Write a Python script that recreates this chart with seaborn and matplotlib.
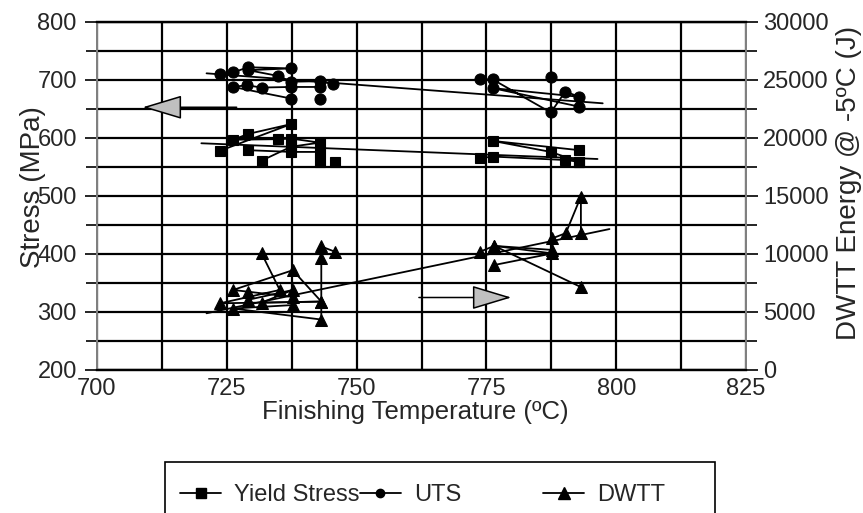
import numpy as np
import pandas as pd
import matplotlib
matplotlib.use("Agg")
import matplotlib.pyplot as plt
import seaborn as sns
from matplotlib.lines import Line2D
from matplotlib.patches import Rectangle
from matplotlib.ticker import MultipleLocator

# ---------------- data ----------------
ys_temp = [723.7, 737.4, 729.1, 726.2, 734.9, 737.4, 742.9, 737.4, 731.7,
           729.1, 737.4, 742.9, 742.9,
           745.8,
           773.7, 776.2, 790.2, 792.9,
           792.9, 776.2, 787.4, 792.9]
ys_stress = [578, 624, 607, 597, 598, 599, 592, 585, 561,
             579, 576, 576, 558,
             558,
             565, 568, 562, 559,
             579, 595, 576, 559]
ys_run = [1] * 9 + [2] * 4 + [3] + [4] * 4 + [5] * 4

uts_temp = [723.7, 726.2, 729.1, 737.4, 729.1, 734.9, 737.4, 742.9, 745.5,
            742.9, 737.4, 731.7, 728.8, 726.2, 737.4,
            742.9,
            773.7, 776.2, 787.4, 790.2, 792.9, 776.2, 792.9,
            787.4]
uts_stress = [710, 713, 722, 720, 717, 707, 697, 698, 693,
              688, 688, 687, 691, 688, 668,
              667,
              701, 701, 644, 680, 671, 686, 654,
              705]
uts_run = [1] * 9 + [2] * 6 + [3] + [4] * 7 + [5]

dwtt_temp = [731.7, 735.2, 723.7, 743.2, 737.7, 726.2, 729.1, 737.7, 737.7,
             726.2, 743.2, 743.2, 743.2, 745.8,
             729.1, 737.7, 731.7, 743.2,
             773.8, 776.5, 787.7, 787.7, 790.3, 793.2, 793.2,
             793.2, 776.5, 787.7, 776.5]
dwtt_energy = [10050, 6900, 5750, 5900, 8600, 6900, 6750, 6300, 5600,
               5300, 4350, 9650, 10650, 10200,
               6050, 6900, 5800, 5900,
               10200, 10700, 10350, 11350, 11800, 14950, 11850,
               7150, 10700, 10050, 9050]
dwtt_run = [1] * 14 + [2] * 4 + [3] * 7 + [4] * 4

# linear trend lines (end points)
trend_temp_ys = [720.1, 796.4]
trend_ys = [590.9, 563.8]
trend_temp_uts = [721.1, 797.4]
trend_uts = [711.5, 659.8]
trend_temp_dwtt = [721.1, 798.7]
trend_dwtt = [4890, 12150]

legend_labels = ["Yield Stress", "UTS", "DWTT"]

# ---------------- styling ----------------
sns.set_style("white")
plt.rcParams["font.family"] = ["Liberation Sans", "DejaVu Sans"]
FS = 17
FT = 18.5
FY = 20

fig = plt.figure(figsize=(8.63, 5.13), dpi=100)
ax = fig.add_axes([97 / 863, 1 - 370 / 513, 649 / 863, 348 / 513])
ax2 = ax.twinx()

ys_df = pd.DataFrame({"T": ys_temp, "S": ys_stress, "run": ys_run})
uts_df = pd.DataFrame({"T": uts_temp, "S": uts_stress, "run": uts_run})
dw_df = pd.DataFrame({"T": dwtt_temp, "E": dwtt_energy, "run": dwtt_run})

line_kw = dict(color="black", linewidth=1.3, estimator=None, sort=False, legend=False)

sns.lineplot(data=ys_df, x="T", y="S", units="run", ax=ax, marker="s",
             markersize=7, markeredgecolor="black", markeredgewidth=0.8, **line_kw)
sns.lineplot(data=uts_df, x="T", y="S", units="run", ax=ax, marker="o",
             markersize=8, markeredgecolor="black", **line_kw)
sns.lineplot(data=dw_df, x="T", y="E", units="run", ax=ax2, marker="^",
             markersize=9, markeredgecolor="black", **line_kw)

sns.lineplot(x=trend_temp_ys, y=trend_ys, ax=ax, color="black", linewidth=1.3)
sns.lineplot(x=trend_temp_uts, y=trend_uts, ax=ax, color="black", linewidth=1.3)
sns.lineplot(x=trend_temp_dwtt, y=trend_dwtt, ax=ax2, color="black", linewidth=1.3)

# axes limits / ticks
ax.set_xlim(700, 825)
ax.set_ylim(200, 800)
ax2.set_ylim(0, 30000)
ax.xaxis.set_major_locator(MultipleLocator(25))
ax.xaxis.set_minor_locator(MultipleLocator(12.5))
ax.yaxis.set_major_locator(MultipleLocator(100))
ax.yaxis.set_minor_locator(MultipleLocator(50))
ax2.yaxis.set_major_locator(MultipleLocator(5000))
ax2.yaxis.set_minor_locator(MultipleLocator(2500))

ax.set_axisbelow(True)
ax.grid(True, which="both", color="black", linewidth=1.6)
ax2.grid(False)

ax.tick_params(axis="x", which="major", direction="inout", length=10, width=1.2,
               labelsize=FS, pad=1, color="black")
ax.tick_params(axis="x", which="minor", direction="out", length=5, width=1.2, color="black")
ax.tick_params(axis="y", which="major", direction="inout", length=17, width=1.2,
               labelsize=FS, pad=6, color="black")
ax.tick_params(axis="y", which="minor", direction="out", length=8, width=1.2, color="black")
ax2.tick_params(axis="y", which="major", direction="inout", length=17, width=1.2,
                labelsize=FS, pad=4, color="black")
ax2.tick_params(axis="y", which="minor", direction="out", length=8, width=1.2, color="black")

for a in (ax, ax2):
    for side in ("top", "bottom"):
        a.spines[side].set_color("black")
        a.spines[side].set_linewidth(1.6)
    for side in ("left", "right"):
        a.spines[side].set_color("#808080")
        a.spines[side].set_linewidth(1.4)

ax.set_xlabel("Finishing Temperature (ºC)", fontsize=FT)
ax.set_ylabel("Stress (MPa)", fontsize=FY)
ax2.set_ylabel("DWTT Energy @ -5ºC (J)", fontsize=FY, rotation=90)
ax.xaxis.set_label_coords(0.49, -0.085)
ax.yaxis.set_label_coords(-0.078, 0.526)
ax2.yaxis.set_label_coords(1.139, 0.537)

# arrows pointing at the axes
arrow_kw = dict(arrowstyle="-|>,head_length=1.26,head_width=0.38", mutation_scale=20,
                fc="#c0c0c0", ec="black", lw=1.1, shrinkA=0, shrinkB=0)
ax.annotate("", xy=(708.8, 653), xytext=(726.9, 653), arrowprops=arrow_kw)
ax.annotate("", xy=(779.8, 325), xytext=(762.0, 325), arrowprops=arrow_kw)

# legend (boxed, partly cut off at the bottom like the original)
fig.patches.append(Rectangle((165 / 863, -0.2), (715 - 165) / 863, 0.2 + 1 - 462 / 513,
                             transform=fig.transFigure, fill=False, ec="black", lw=1.2))
h_ys = Line2D([], [], color="black", lw=1.3, marker="s", markersize=7)
h_uts = Line2D([], [], color="black", lw=1.3, marker="o", markersize=6)
h_dw = Line2D([], [], color="black", lw=1.3, marker="^", markersize=8)
leg_kw = dict(loc="center left", frameon=False, fontsize=FS, borderpad=0, borderaxespad=0,
              handlelength=1.75, handletextpad=0.55)
legA = fig.legend([h_ys, h_uts], legend_labels[:2], ncol=2, columnspacing=0.0,
                  bbox_to_anchor=(180 / 863, 1 - 495 / 513), **leg_kw)
legB = fig.legend([h_dw], legend_labels[2:], bbox_to_anchor=(543 / 863, 1 - 495 / 513), **leg_kw)

fig.savefig("out.png", dpi=100)
